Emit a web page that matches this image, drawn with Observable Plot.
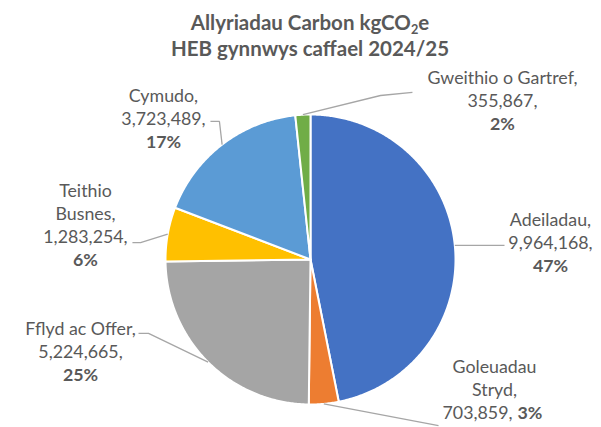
<!DOCTYPE html>
<html><head><meta charset="utf-8">
<script src="https://cdn.jsdelivr.net/npm/d3@7"></script>
<script src="https://cdn.jsdelivr.net/npm/@observablehq/plot@0.6"></script>
<style>
body{margin:0;background:#fff;}
#wrap{width:601px;height:427px;overflow:hidden;font-family:Lato,sans-serif;background:#fff;}
#title{box-sizing:border-box;height:62px;padding:10.5px 0 0 19px;text-align:center;font-weight:bold;font-size:20.5px;line-height:23px;color:#595959;}
#title .sub{font-size:0.62em;position:relative;top:0.32em;}
#chart svg{display:block;}
</style></head><body>
<div id="wrap">
  <div id="title">Allyriadau Carbon kgCO<span class="sub">2</span>e<br>HEB gynnwys caffael 2024/25</div>
  <div id="chart"></div>
</div>
<script>
// ---- data ----
const categories = ["Adeiladau", "Goleuadau Stryd", "Fflyd ac Offer", "Teithio Busnes", "Cymudo", "Gweithio o Gartref"];
const values = [9964168, 703859, 5224665, 1283254, 3723489, 355867];
const percentLabels = ["47%", "3%", "25%", "6%", "17%", "2%"];
const nameLines = [["Adeiladau,"], ["Goleuadau", "Stryd,"], ["Fflyd ac Offer,"], ["Teithio", "Busnes,"], ["Cymudo,"], ["Gweithio o Gartref,"]];
const colors = ["#4472C4", "#ED7D31", "#A5A5A5", "#FFC000", "#5B9BD5", "#70AD47"];

// ---- label layout (radius units, relative to pie centre, y up) ----
const lineStep = 23 / 145;
const labelLayout = {
  "Adeiladau":          {x: 1.655, y: 0.228,  leader: [[1.338, 0.097]]},
  "Goleuadau Stryd":    {x: 1.269, y: -0.786, inline: {end: 1.393, start: 1.428}, leader: [[0.883, -1.145]]},
  "Fflyd ac Offer":     {x: -1.586, y: -0.524, leader: [[-1.117, -0.510], [-1.186, -0.510]]},
  "Teithio Busnes":     {x: -1.552, y: 0.434,  leader: [[-1.172, 0.117], [-1.228, 0.117]]},
  "Cymudo":             {x: -1.014, y: 1.083,  leader: [[-0.628, 0.952], [-0.690, 0.952]]},
  "Gweithio o Gartref": {x: 1.324, y: 1.207,  leader: [[0.483, 1.131], [0.703, 1.152]]}
};

// ---- derived geometry ----
const total = d3.sum(values);
let acc = 0;
const slices = categories.map((c, i) => {
  const a0 = acc / total * 2 * Math.PI; acc += values[i];
  const a1 = acc / total * 2 * Math.PI;
  return {c, i, a0, a1, mid: (a0 + a1) / 2};
});
const polys = slices.flatMap(s => {
  const pts = [{c: s.c, x: 0, y: 0}];
  const n = Math.max(2, Math.ceil((s.a1 - s.a0) / (Math.PI / 360)));
  for (let k = 0; k <= n; k++) {
    const a = s.a0 + (s.a1 - s.a0) * k / n;
    pts.push({c: s.c, x: Math.sin(a), y: Math.cos(a)});
  }
  pts.push({c: s.c, x: 0, y: 0});
  return pts;
});
const leaders = slices.flatMap(s => {
  const L = labelLayout[s.c];
  return [{c: s.c, x: Math.sin(s.mid), y: Math.cos(s.mid)}, ...L.leader.map(([x, y]) => ({c: s.c, x, y}))];
});
const fmt = d3.format(",");
const rows = [];
slices.forEach(s => {
  const L = labelLayout[s.c];
  let k = 0;
  nameLines[s.i].forEach(t => rows.push({t, x: L.x, y: L.y - lineStep * k++, bold: false, anchor: "middle"}));
  const v = fmt(values[s.i]) + ",";
  if (L.inline) {
    const y = L.y - lineStep * k;
    rows.push({t: v, x: L.inline.end, y, bold: false, anchor: "end"});
    rows.push({t: percentLabels[s.i], x: L.inline.start, y, bold: true, anchor: "start"});
  } else {
    rows.push({t: v, x: L.x, y: L.y - lineStep * k++, bold: false, anchor: "middle"});
    rows.push({t: percentLabels[s.i], x: L.x, y: L.y - lineStep * k, bold: true, anchor: "middle"});
  }
});

const textOpts = (bold, anchor) => ({
  x: "x", y: "y", text: "t", fill: "#595959", fontSize: 17.8, lineAnchor: "bottom",
  textAnchor: anchor, fontWeight: bold ? "bold" : "normal"
});
const sel = (bold, anchor) => rows.filter(r => r.bold === bold && r.anchor === anchor);

const chart = Plot.plot({
  width: 601, height: 365, margin: 0,
  x: {domain: [-310 / 145, 291 / 145], axis: null},
  y: {domain: [-168 / 145, 197 / 145], axis: null},
  color: {domain: categories, range: colors},
  style: {fontFamily: "Lato, sans-serif", background: "white", overflow: "visible"},
  marks: [
    Plot.line(polys, {x: "x", y: "y", z: "c", fill: "c", stroke: "white", strokeWidth: 2, strokeLinejoin: "round", curve: "linear"}),
    Plot.line(leaders, {x: "x", y: "y", z: "c", stroke: "#A6A6A6", strokeWidth: 1.3, strokeLinecap: "butt", strokeLinejoin: "miter"}),
    Plot.text(sel(false, "middle"), textOpts(false, "middle")),
    Plot.text(sel(true, "middle"), textOpts(true, "middle")),
    Plot.text(sel(false, "end"), textOpts(false, "end")),
    Plot.text(sel(true, "start"), textOpts(true, "start"))
  ]
});
document.getElementById("chart").appendChild(chart);
</script>
</body></html>
